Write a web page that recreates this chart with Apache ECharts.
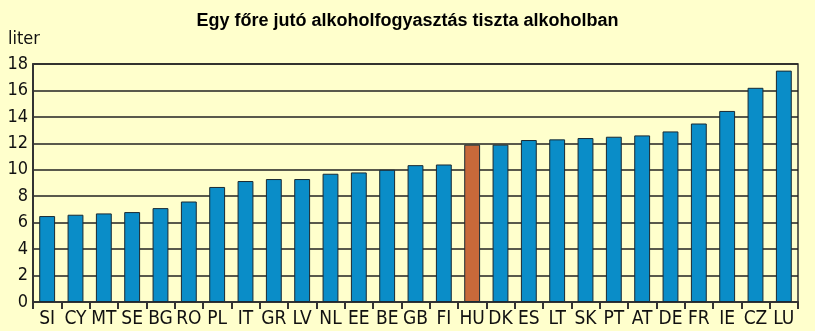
<!DOCTYPE html>
<html><head><meta charset="utf-8">
<script src="https://cdn.jsdelivr.net/npm/echarts@6/dist/echarts.min.js"></script>
<style>html,body{margin:0;padding:0;background:#FFFFCC;}#c{width:815px;height:331px;}</style>
</head><body><div id="c"></div>
<script>
const categories = ['SI','CY','MT','SE','BG','RO','PL','IT','GR','LV','NL','EE','BE','GB','FI','HU','DK','ES','LT','SK','PT','AT','DE','FR','IE','CZ','LU'];
const values = [6.5,6.6,6.7,6.8,7.1,7.6,8.7,9.15,9.3,9.3,9.7,9.8,10.0,10.35,10.4,11.9,11.9,12.25,12.3,12.4,12.5,12.6,12.9,13.5,14.45,16.2,17.5];
const highlight = 'HU';
const yTicks = [0,2,4,6,8,10,12,14,16,18];
const font = '"DejaVu Sans Condensed", "Liberation Sans Narrow", "Liberation Sans", sans-serif';
const chart = echarts.init(document.getElementById('c'));
chart.setOption({
  backgroundColor: '#FFFFCC',
  animation: false,
  title: {text: 'Egy főre jutó alkoholfogyasztás tiszta alkoholban', left: 'center', top: 7,
    textStyle: {fontFamily: 'Liberation Sans, Arial, sans-serif', fontWeight: 'bold', fontSize: 18, color: '#000'}},
  graphic: [{type: 'text', left: 8, top: 30, style: {text: 'liter', font: '18px ' + font, fill: '#111'}}],
  grid: {left: 33, right: 17, top: 64, bottom: 29, show: true, borderColor: '#333', borderWidth: 1.5, backgroundColor: 'transparent'},
  xAxis: {type: 'category', data: categories,
    axisLine: {lineStyle: {color: '#333', width: 2}},
    axisTick: {show: true, length: 7, lineStyle: {color: '#333', width: 2}},
    axisLabel: {fontFamily: font, fontSize: 19, color: '#111', margin: 8, interval: 0}},
  yAxis: {type: 'value', min: 0, max: 18, interval: 2,
    axisLine: {show: true, lineStyle: {color: '#333', width: 2}},
    axisTick: {show: false},
    splitLine: {lineStyle: {color: '#222', width: 1.5}},
    axisLabel: {fontFamily: font, fontSize: 18, color: '#111', margin: 5,
      formatter: v => yTicks.includes(v) ? String(v) : ''}},
  series: [{type: 'bar', barWidth: '56%',
    data: values.map((v, i) => ({value: v, itemStyle: {color: categories[i] === highlight ? '#C8693A' : '#0A8DC8'}})),
    itemStyle: {borderColor: '#1a2a33', borderWidth: 1}}]
});
</script></body></html>
